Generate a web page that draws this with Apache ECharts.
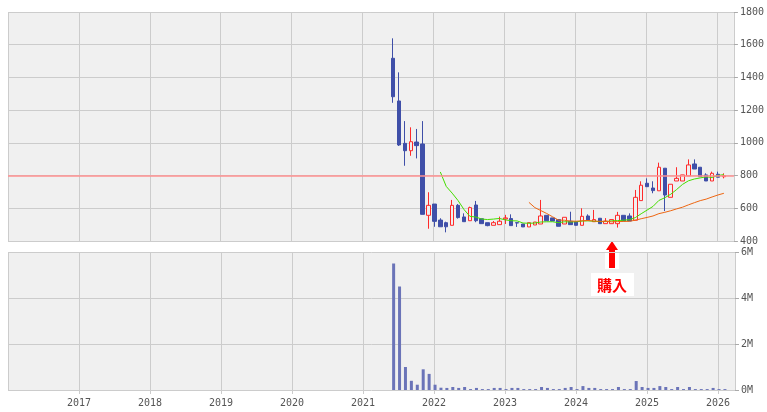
<!DOCTYPE html>
<html><head><meta charset="utf-8">
<script src="https://cdn.jsdelivr.net/npm/echarts@6/dist/echarts.min.js"></script>
<style>html,body{margin:0;padding:0;background:#fff}#c{width:767px;height:412px}</style>
</head><body><div id="c"></div>
<script>
const months = ["2021-06","2021-07","2021-08","2021-09","2021-10","2021-11","2021-12",
"2022-01","2022-02","2022-03","2022-04","2022-05","2022-06","2022-07","2022-08","2022-09","2022-10","2022-11","2022-12",
"2023-01","2023-02","2023-03","2023-04","2023-05","2023-06","2023-07","2023-08","2023-09","2023-10","2023-11","2023-12",
"2024-01","2024-02","2024-03","2024-04","2024-05","2024-06","2024-07","2024-08","2024-09","2024-10","2024-11","2024-12",
"2025-01","2025-02","2025-03","2025-04","2025-05","2025-06","2025-07","2025-08","2025-09","2025-10","2025-11","2025-12",
"2026-01","2026-02"];
const opens  = [1517,1256,997,952,1005,993,557,626,528,512,496,618,547,524,620,536,512,496,500,535,537,512,504,486,498,504,557,541,531,504,521,517,496,553,518,539,506,506,506,557,553,527,647,753,724,707,845,667,767,767,798,871,851,804,767,808,793];
const closes = [1282,987,952,1007,983,563,618,520,487,487,618,543,518,604,524,506,494,512,521,541,494,510,486,512,516,553,524,522,490,545,500,496,551,528,531,506,522,531,557,522,522,667,741,732,708,851,681,747,783,804,865,840,793,767,814,790,798];
const lows   = [1245,981,860,921,905,563,475,487,487,453,496,537,518,524,515,506,490,496,500,504,494,486,486,486,498,504,524,522,490,504,500,496,496,528,518,506,506,506,482,522,522,527,647,732,692,707,583,667,767,767,798,840,793,767,767,790,783];
const highs  = [1639,1431,1133,1095,1085,1133,698,626,539,518,651,626,569,610,645,536,512,522,549,560,563,512,504,512,516,651,557,541,531,545,579,517,600,563,590,539,540,531,578,557,569,712,765,783,765,879,845,747,851,804,899,899,851,814,824,824,814];
const volumes= [5.5,4.5,1.0,0.4,0.23,0.9,0.7,0.23,0.1,0.09,0.13,0.09,0.13,0.04,0.09,0.04,0.04,0.09,0.09,0.04,0.09,0.09,0.04,0.04,0.04,0.13,0.09,0.04,0.04,0.09,0.13,0.04,0.17,0.09,0.09,0.04,0.04,0.04,0.13,0.04,0.04,0.39,0.13,0.09,0.09,0.17,0.13,0.04,0.13,0.04,0.13,0.04,0.04,0.04,0.09,0.04,0.04];
const volTicks = ["0M","2M","4M","6M"];
const refLevel = 800;

const t = m => { const [y,mo]=m.split('-').map(Number); return y + (mo-1)/12 + 0.015; };
function ma(n){ return closes.map((c,i)=> i<n-1 ? null : [t(months[i]), closes.slice(i-n+1,i+1).reduce((a,b)=>a+b,0)/n]).filter(x=>x); }
const up = {color:'#f0f0f0',borderColor:'#ff2a2a',borderColor0:'#ff2a2a',color0:'#f0f0f0'};
const dn = {color:'#3f4fa8',borderColor:'#3f4fa8',color0:'#3f4fa8',borderColor0:'#3f4fa8'};
const candle = months.map((m,i)=>({value:[t(m),opens[i],closes[i],lows[i],highs[i]], itemStyle: closes[i]>=opens[i]?up:dn}));
const vol = months.map((m,i)=>[t(m),volumes[i]*1e6]);
const F = '"DejaVu Sans Mono"';
const xBase = {type:'value',min:2016,max:2026.24,interval:1,
  splitLine:{show:true,lineStyle:{color:'#cccccc'}},axisLine:{show:false}};
const chart = echarts.init(document.getElementById('c'));
chart.setOption({
  animation:false,
  grid:[{left:8,right:32,top:12,height:229,backgroundColor:'#f0f0f0',show:true,borderWidth:0},
        {left:8,right:32,top:252,height:138,backgroundColor:'#f0f0f0',show:true,borderWidth:0}],
  xAxis:[Object.assign({gridIndex:0,axisLabel:{show:false},axisTick:{show:false}},xBase),
         Object.assign({gridIndex:1,axisTick:{show:true,length:4,lineStyle:{color:'#cccccc'}},
           axisLabel:{fontSize:10,fontFamily:F,color:'#555',margin:8,showMinLabel:false,showMaxLabel:false,formatter:v=>String(Math.round(v))}},xBase)],
  yAxis:[{gridIndex:0,position:'right',min:400,max:1800,interval:200,
          axisLabel:{fontSize:10,fontFamily:F,color:'#555',margin:6,formatter:v=>String(v)},axisTick:{show:true,length:4,lineStyle:{color:'#aaa'}},
          axisLine:{show:false},splitLine:{lineStyle:{color:'#cccccc'}}},
         {gridIndex:1,position:'right',min:0,max:6e6,interval:2e6,
          axisLabel:{fontSize:10,fontFamily:F,color:'#555',margin:6,formatter:v=>volTicks[Math.round(v/2e6)]},axisTick:{show:true,length:4,lineStyle:{color:'#aaa'}},
          axisLine:{show:false},splitLine:{lineStyle:{color:'#cccccc'}}}],
  series:[
    {type:'candlestick',xAxisIndex:0,yAxisIndex:0,barWidth:4,data:candle,
     markLine:{symbol:'none',silent:true,label:{show:false},lineStyle:{color:'#ff9090',width:1.5,type:'solid'},data:[{yAxis:refLevel}]}},
    {type:'line',xAxisIndex:0,yAxisIndex:0,data:ma(9),showSymbol:false,lineStyle:{color:'#44dd00',width:1}},
    {type:'line',xAxisIndex:0,yAxisIndex:0,data:ma(24),showSymbol:false,lineStyle:{color:'#ee6611',width:1}},
    {type:'bar',xAxisIndex:1,yAxisIndex:1,barWidth:3,data:vol,itemStyle:{color:'#6b74b8'}}
  ],
  graphic:[
    {type:'rect',shape:{x:605,y:241,width:14,height:28},style:{fill:'#fff'}},
    {type:'polygon',shape:{points:[[612,241],[606,250],[609,250],[609,268],[615,268],[615,250],[618,250]]},style:{fill:'#ff0000'}},
    {type:'rect',shape:{x:591,y:273,width:43,height:23},style:{fill:'#fff'}},
    {type:'text',x:612,y:285,style:{text:'購入',fill:'#ff0000',font:'bold 15px "Noto Sans CJK JP"',align:'center',verticalAlign:'middle'}}
  ]
});
</script></body></html>
